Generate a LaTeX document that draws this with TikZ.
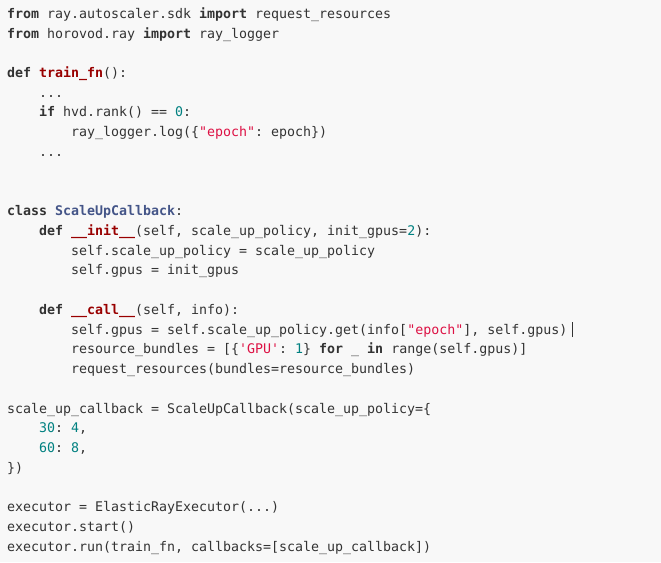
\documentclass[tikz,border=0pt]{standalone}
\usepackage{fontspec}
\setmonofont{DejaVu Sans Mono}
\usepackage{tikz}

\definecolor{codebg}{HTML}{F8F8F8}
\definecolor{codetext}{HTML}{333333}
\definecolor{codefn}{HTML}{990000}
\definecolor{codecls}{HTML}{445588}
\definecolor{codenum}{HTML}{008080}
\definecolor{codestr}{HTML}{DD1144}

\newcommand{\ckw}[1]{\textbf{#1}}
\newcommand{\cfn}[1]{\textbf{\textcolor{codefn}{#1}}}
\newcommand{\ccls}[1]{\textbf{\textcolor{codecls}{#1}}}
\newcommand{\cnum}[1]{\textcolor{codenum}{#1}}
\newcommand{\cstr}[1]{\textcolor{codestr}{#1}}
\newcommand{\dq}{\textquotedbl}
\newcommand{\sq}{\textquotesingle}

\begin{document}
\begin{tikzpicture} [
  x=1pt, y=1pt,
  codeline/.style={anchor=base west, inner sep=0pt, text=codetext,
    font=\ttfamily\fontsize{13.29}{19.74}\selectfont}]

\fill[codebg] (0,0) rectangle (661,562);
\useasboundingbox (0,0) rectangle (661,562);

% imports
\node[codeline] (l1) at (7,543.7) {\ckw{from} ray.autoscaler.sdk \ckw{import} request\_resources};
\node[codeline] (l2) at (7,523.96) {\ckw{from} horovod.ray \ckw{import} ray\_logger};

% training function
\node[codeline] (l4) at (7,484.48) {\ckw{def} \cfn{train\_fn}():};
\node[codeline] (l5) at (39,464.74) {...};
\node[codeline] (l6) at (39,445.0) {\ckw{if} hvd.rank() == \cnum{0}:};
\node[codeline] (l7) at (71,425.26) {ray\_logger.log(\{\cstr{\dq epoch\dq}: epoch\})};
\node[codeline] (l8) at (39,405.52) {...};

% callback class
\node[codeline] (l11) at (7,346.3) {\ckw{class} \ccls{ScaleUpCallback}:};
\node[codeline] (l12) at (39,326.56) {\ckw{def} \cfn{\_\_init\_\_}(self, scale\_up\_policy, init\_gpus=\cnum{2}):};
\node[codeline] (l13) at (71,306.82) {self.scale\_up\_policy = scale\_up\_policy};
\node[codeline] (l14) at (71,287.08) {self.gpus = init\_gpus};
\node[codeline] (l16) at (39,247.6) {\ckw{def} \cfn{\_\_call\_\_}(self, info):};
\node[codeline] (l17) at (71,227.86) {self.gpus = self.scale\_up\_policy.get(info[\cstr{\dq epoch\dq}], self.gpus)};
\node[codeline] (l18) at (71,208.12) {resource\_bundles = [\{\cstr{\sq GPU\sq}: \cnum{1}\} \ckw{for} \_ \ckw{in} range(self.gpus)]};
\node[codeline] (l19) at (71,188.38) {request\_resources(bundles=resource\_bundles)};

% policy
\node[codeline] (l21) at (7,148.9) {scale\_up\_callback = ScaleUpCallback(scale\_up\_policy=\{};
\node[codeline] (l22) at (39,129.16) {\cnum{30}: \cnum{4},};
\node[codeline] (l23) at (39,109.42) {\cnum{60}: \cnum{8},};
\node[codeline] (l24) at (7,89.68) {\})};

% executor
\node[codeline] (l26) at (7,50.2) {executor = ElasticRayExecutor(...)};
\node[codeline] (l27) at (7,30.46) {executor.start()};
\node[codeline] (l28) at (7,10.72) {executor.run(train\_fn, callbacks=[scale\_up\_callback])};

% text cursor
\coordinate (cur) at ([xshift=4.8pt]l17.base east);
\draw[codetext, line width=0.9pt] ([yshift=-3pt]cur) -- ([yshift=12pt]cur);
\end{tikzpicture}
\end{document}
